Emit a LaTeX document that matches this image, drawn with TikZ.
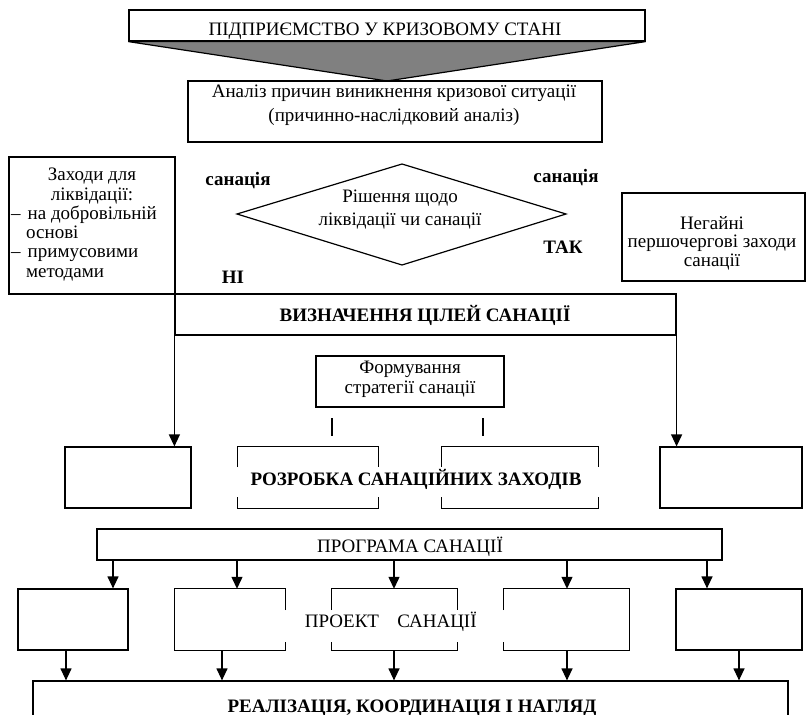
\documentclass[tikz,border=0pt]{standalone}
\usepackage{fontspec}
\setmainfont{Liberation Serif}
\usetikzlibrary{arrows.meta}
\definecolor{funnelgray}{RGB}{128,128,128}
\begin{document}
\begin{tikzpicture}[x=1pt,y=-1pt,
  txt/.style={inner sep=0pt, font=\fontsize{19}{19.5}\selectfont, align=center},
  bold/.style={inner sep=0pt, font=\fontsize{19}{19.5}\selectfont\bfseries, align=center},
  frame/.style={draw, line width=1.2pt, inner sep=0pt},
  hole/.style={inner sep=0pt},
  outline/.style={line width=1.2pt},
  arr/.style={line width=1.2pt, -{Triangle[length=12pt,width=11pt]}},
]
\useasboundingbox (0,0) rectangle (807,715);

% heading with funnel
\coordinate (apex) at (387,81);
\node[frame, minimum width=516pt, minimum height=31pt] (top) at (387,25.5) {};
\draw[outline, fill=funnelgray] (top.south west) -- (apex) -- (top.south east) -- cycle;
\node[txt, anchor=base] (toptext) at (385,35) {ПІДПРИЄМСТВО У КРИЗОВОМУ СТАНІ};

% analysis (multi-line text: base anchor sits on the last line)
\node[frame, minimum width=414pt, minimum height=61pt] (anl) at (395,111.5) {};
\node[txt, anchor=base] (anltext) at (394,121.7) {Аналіз причин виникнення кризової ситуації\\[5pt](причинно-наслідковий аналіз)};

% liquidation measures
\node[frame, minimum width=166pt, minimum height=137pt] (liq) at (92,225.5) {};
\node[inner sep=0pt, font=\fontsize{19}{19.3}\selectfont, align=center, anchor=base] (liqhead) at (92,200)
  {Заходи для\\ліквідації:};
\node[inner sep=0pt, font=\fontsize{19}{19.3}\selectfont, align=left, anchor=base west] (liqlist) at (11,277)
  {–\hspace{7pt}на добровільній\\\hspace*{15pt}основі\\–\hspace{7pt}примусовими\\\hspace*{15pt}методами};

% decision
\coordinate (dl) at (237,214);
\coordinate (dt) at (402,164);
\coordinate (dr) at (566,214);
\coordinate (db) at (402,265);
\draw[outline] (dl) -- (dt) -- (dr) -- (db) -- cycle;
\node[txt, anchor=base] (dtext) at (400,225) {Рішення щодо\\[3pt]ліквідації чи санації};
\node[bold, anchor=base] (lsan) at (238,185) {санація};
\node[bold, anchor=base] (lno) at (233,283) {НІ};
\node[bold, anchor=base] (rsan) at (566,182) {санація};
\node[bold, anchor=base] (ryes) at (563,253) {ТАК};

% urgent measures
\node[frame, minimum width=183pt, minimum height=88pt] (urg) at (713.5,237) {};
\node[inner sep=0pt, font=\fontsize{19}{18.5}\selectfont, align=center, anchor=base] (urgtext) at (712,266) {Негайні\\першочергові заходи\\санації};

% goals
\node[frame, minimum width=501pt, minimum height=41pt] (vyzn) at (425.5,314.5) {};
\node[bold, anchor=base] (vyzntext) at (425,321) {ВИЗНАЧЕННЯ ЦІЛЕЙ САНАЦІЇ};

% strategy
\node[frame, minimum width=188pt, minimum height=51pt] (form) at (410,381.5) {};
\node[txt, anchor=base] (formtext) at (410,393) {Формування\\стратегії санації};
\draw[outline] (332,418) -- (332,436);
\draw[outline] (483,418) -- (483,436);

% side boxes
\node[frame, minimum width=126pt, minimum height=61pt] (lsm) at (128,477.5) {};
\node[frame, minimum width=142pt, minimum height=61pt] (rsm) at (731,477.5) {};
\draw[arr] (vyzn.south west) -- (lsm.north -| vyzn.south west);
\draw[arr] (vyzn.south east) -- (rsm.north -| vyzn.south east);

% measures development
\node[hole, minimum width=140pt, minimum height=61pt] (rz1) at (308,477.5) {};
\node[hole, minimum width=156pt, minimum height=61pt] (rz2) at (520,477.5) {};
\foreach \b in {rz1,rz2} {
  \draw[outline] (\b.west |- 0,467) -- (\b.north west) -- (\b.north east) -- (\b.east |- 0,467);
  \draw[outline] (\b.west |- 0,497) -- (\b.south west) -- (\b.south east) -- (\b.east |- 0,497);
}
\node[bold, anchor=base] (rztext) at (416,485) {РОЗРОБКА САНАЦІЙНИХ ЗАХОДІВ};

% programme
\node[frame, minimum width=625pt, minimum height=31pt] (prog) at (409.5,544.5) {};
\node[txt, anchor=base] (progtext) at (410,552) {ПРОГРАМА САНАЦІЇ};

% project row
\node[frame, minimum width=110pt, minimum height=61pt] (r1) at (73,619.5) {};
\node[hole, minimum width=110pt, minimum height=61pt] (r2) at (230,619.5) {};
\node[hole, minimum width=125pt, minimum height=61pt] (r3) at (394.5,619.5) {};
\node[hole, minimum width=125pt, minimum height=61pt] (r4) at (566.5,619.5) {};
\node[frame, minimum width=126pt, minimum height=61pt] (r5) at (739,619.5) {};
\draw[outline] (r2.east |- 0,610) -- (r2.north east) -- (r2.north west) -- (r2.south west) -- (r2.south east) -- (r2.east |- 0,642);
\draw[outline] (r3.west |- 0,610) -- (r3.north west) -- (r3.north east) -- (r3.east |- 0,610);
\draw[outline] (r3.west |- 0,642) -- (r3.south west) -- (r3.south east) -- (r3.east |- 0,642);
\draw[outline] (r4.west |- 0,610) -- (r4.north west) -- (r4.north east) -- (r4.south east) -- (r4.south west) -- (r4.west |- 0,642);
\node[txt, anchor=base] (projtext) at (342,627) {ПРОЕКТ};
\node[txt, anchor=base] (sanaciitext) at (437,627) {САНАЦІЇ};

% implementation
\node[frame, minimum width=755pt, minimum height=59pt] (real) at (410.5,710.5) {};
\node[bold, anchor=base] (realtext) at (412,712) {РЕАЛІЗАЦІЯ, КООРДИНАЦІЯ І НАГЛЯД};

\foreach \t/\x in {r1/113, r2/237, r3/394, r4/567, r5/707}
  \draw[arr] (prog.south -| \x,0) -- (\t.north -| \x,0);
\foreach \s/\x in {r1/66, r2/222, r3/394, r4/567, r5/739}
  \draw[arr] (\s.south -| \x,0) -- (real.north -| \x,0);
\end{tikzpicture}
\end{document}
